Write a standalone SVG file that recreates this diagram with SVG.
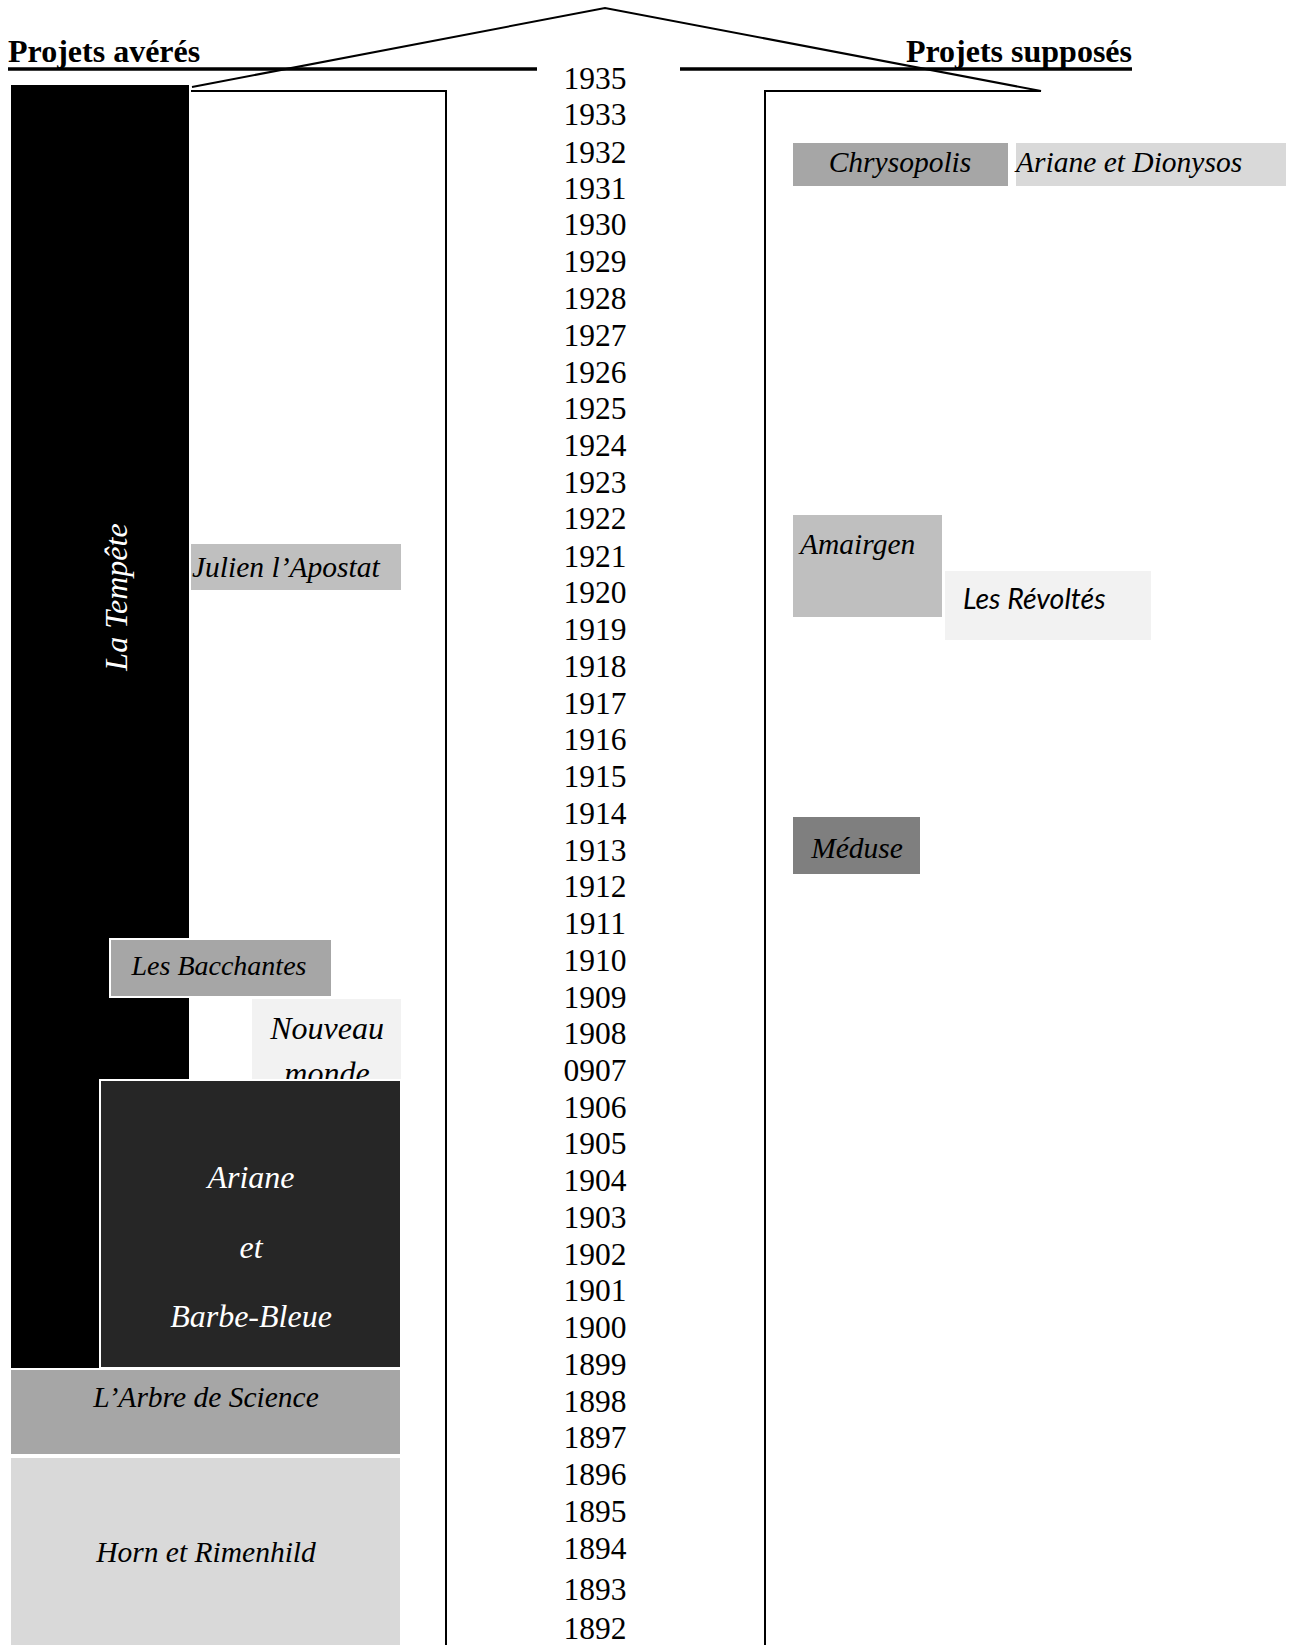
<svg xmlns="http://www.w3.org/2000/svg" width="1293" height="1645" viewBox="0 0 1293 1645">
  <style>
    .yr { font-family: "Liberation Serif", "Times New Roman", serif; font-size: 31.5px; fill: #000; text-anchor: middle; }
    .lbl { font-family: "Liberation Serif", "Times New Roman", serif; font-size: 29.5px; font-style: italic; fill: #000; }
    .lbl-w { font-family: "Liberation Serif", "Times New Roman", serif; font-size: 32px; font-style: italic; fill: #fff; }
    .big { font-size: 32px; }
    .small { font-size: 28px; }
    .sans { font-family: Lato, "Open Sans", sans-serif; font-size: 28.5px; font-style: italic; fill: #000; }
    .title { font-family: "Liberation Serif", "Times New Roman", serif; font-size: 32px; font-weight: bold; fill: #000; }
    .box { stroke: #fff; stroke-width: 2; }
    .thin { fill: none; stroke: #000; stroke-width: 2; }
    .thick { fill: none; stroke: #000; stroke-width: 3.5; }
  </style>

  <rect width="1293" height="1645" fill="#fff"/>

  <!-- arrow outline and header rules -->
  <g id="connectors">
    <polyline class="thin" points="192,87 605,8 1041,91 765,91 765,1645"/>
    <polyline class="thin" points="190,91 446,91 446,1645"/>
    <line class="thick" x1="8" y1="69" x2="537" y2="69"/>
    <line class="thick" x1="680" y1="69" x2="1132" y2="69"/>
  </g>

  <!-- column headings -->
  <g id="headings">
    <text class="title" x="8" y="62">Projets avérés</text>
    <text class="title" x="1132" y="62" text-anchor="end">Projets supposés</text>
  </g>

  <!-- confirmed projects (left column) -->
  <g id="la-tempete">
    <rect class="box" x="10" y="84" width="180" height="1285" fill="#000"/>
    <text class="lbl-w" transform="translate(127,597) rotate(-90)" text-anchor="middle">La Tempête</text>
  </g>
  <g id="julien-lapostat">
    <rect x="191" y="544" width="210" height="46" fill="#bfbfbf"/>
    <text class="lbl" x="192" y="577">Julien l’Apostat</text>
  </g>
  <g id="les-bacchantes">
    <rect class="box" x="110" y="939" width="222" height="58" fill="#a6a6a6"/>
    <text class="lbl small" x="219" y="975" text-anchor="middle">Les Bacchantes</text>
  </g>
  <g id="nouveau-monde">
    <rect x="252" y="999" width="149" height="81" fill="#f2f2f2"/>
    <text class="lbl big" x="327" y="1039" text-anchor="middle">Nouveau</text>
    <text class="lbl big" x="327" y="1084" text-anchor="middle">monde</text>
  </g>
  <g id="ariane-et-barbe-bleue">
    <rect class="box" x="100" y="1080" width="301" height="288" fill="#262626"/>
    <text class="lbl-w" x="251" y="1188" text-anchor="middle">Ariane</text>
    <text class="lbl-w" x="251" y="1258" text-anchor="middle">et</text>
    <text class="lbl-w" x="251" y="1327" text-anchor="middle">Barbe-Bleue</text>
  </g>
  <g id="larbre-de-science">
    <rect class="box" x="10" y="1369" width="391" height="86" fill="#a6a6a6"/>
    <text class="lbl" x="206" y="1407" text-anchor="middle">L’Arbre de Science</text>
  </g>
  <g id="horn-et-rimenhild">
    <rect class="box" x="10" y="1457" width="391" height="190" fill="#d9d9d9"/>
    <text class="lbl" x="206" y="1562" text-anchor="middle">Horn et Rimenhild</text>
  </g>

  <!-- assumed projects (right column) -->
  <g id="chrysopolis">
    <rect x="793" y="143" width="215" height="43" fill="#a6a6a6"/>
    <text class="lbl" x="900" y="172" text-anchor="middle">Chrysopolis</text>
  </g>
  <g id="ariane-et-dionysos">
    <rect x="1016" y="143" width="270" height="43" fill="#d9d9d9"/>
    <text class="lbl" x="1016" y="172">Ariane et Dionysos</text>
  </g>
  <g id="amairgen">
    <rect x="793" y="515" width="149" height="102" fill="#bfbfbf"/>
    <text class="lbl" x="800" y="554">Amairgen</text>
  </g>
  <g id="les-revoltes">
    <rect x="945" y="571" width="206" height="69" fill="#f2f2f2"/>
    <text class="sans" x="963" y="609">Les Révoltés</text>
  </g>
  <g id="meduse">
    <rect x="793" y="817" width="127" height="57" fill="#7f7f7f"/>
    <text class="lbl" x="857" y="858" text-anchor="middle">Méduse</text>
  </g>

  <!-- timeline years -->
  <g id="years">
    <text class="yr" x="595" y="89">1935</text>
    <text class="yr" x="595" y="125">1933</text>
    <text class="yr" x="595" y="163">1932</text>
    <text class="yr" x="595" y="199">1931</text>
    <text class="yr" x="595" y="235">1930</text>
    <text class="yr" x="595" y="272">1929</text>
    <text class="yr" x="595" y="309">1928</text>
    <text class="yr" x="595" y="346">1927</text>
    <text class="yr" x="595" y="383">1926</text>
    <text class="yr" x="595" y="419">1925</text>
    <text class="yr" x="595" y="456">1924</text>
    <text class="yr" x="595" y="493">1923</text>
    <text class="yr" x="595" y="529">1922</text>
    <text class="yr" x="595" y="567">1921</text>
    <text class="yr" x="595" y="603">1920</text>
    <text class="yr" x="595" y="640">1919</text>
    <text class="yr" x="595" y="677">1918</text>
    <text class="yr" x="595" y="714">1917</text>
    <text class="yr" x="595" y="750">1916</text>
    <text class="yr" x="595" y="787">1915</text>
    <text class="yr" x="595" y="824">1914</text>
    <text class="yr" x="595" y="861">1913</text>
    <text class="yr" x="595" y="897">1912</text>
    <text class="yr" x="595" y="934">1911</text>
    <text class="yr" x="595" y="971">1910</text>
    <text class="yr" x="595" y="1008">1909</text>
    <text class="yr" x="595" y="1044">1908</text>
    <text class="yr" x="595" y="1081">0907</text>
    <text class="yr" x="595" y="1118">1906</text>
    <text class="yr" x="595" y="1154">1905</text>
    <text class="yr" x="595" y="1191">1904</text>
    <text class="yr" x="595" y="1228">1903</text>
    <text class="yr" x="595" y="1265">1902</text>
    <text class="yr" x="595" y="1301">1901</text>
    <text class="yr" x="595" y="1338">1900</text>
    <text class="yr" x="595" y="1375">1899</text>
    <text class="yr" x="595" y="1412">1898</text>
    <text class="yr" x="595" y="1448">1897</text>
    <text class="yr" x="595" y="1485">1896</text>
    <text class="yr" x="595" y="1522">1895</text>
    <text class="yr" x="595" y="1559">1894</text>
    <text class="yr" x="595" y="1600">1893</text>
    <text class="yr" x="595" y="1639">1892</text>
  </g>
</svg>
